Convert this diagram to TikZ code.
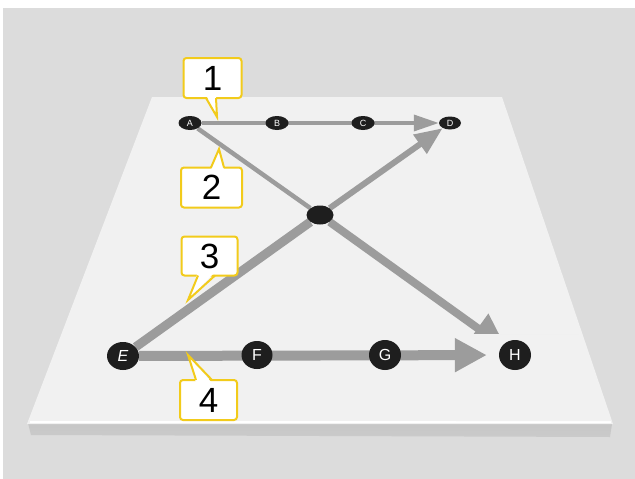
\documentclass[tikz,border=0pt]{standalone}
\usepackage{fontspec}
\setmainfont{Liberation Sans}
\usetikzlibrary{arrows.meta,shapes.geometric,calc}
\pgfdeclarelayer{bglayer}
\pgfdeclarelayer{linelayer}
\pgfsetlayers{bglayer,linelayer,main}
\definecolor{bggray}{HTML}{DCDCDC}
\definecolor{platecol}{HTML}{F1F1F1}
\definecolor{bandcol}{HTML}{C6C6C6}
\definecolor{lngray}{HTML}{9C9C9C}
\definecolor{dotblack}{HTML}{1E1E1E}
\definecolor{calloutyellow}{HTML}{F2CB1B}
\begin{document}
\begin{tikzpicture}[x=1pt,y=-1pt,
  dotsm/.style={ellipse,fill=dotblack,inner sep=0pt,minimum width=23pt,minimum height=14pt,text=white,font=\fontsize{9}{9}\selectfont},
  dotlg/.style={ellipse,fill=dotblack,inner sep=0pt,minimum width=31pt,minimum height=28pt,text=white,font=\fontsize{16}{16}\selectfont},
  dotmid/.style={ellipse,fill=dotblack,inner sep=0pt,minimum width=27pt,minimum height=19pt},
  conn/.style={draw=lngray,line cap=butt},
  callbox/.style={rectangle,rounded corners=3pt,draw=calloutyellow,line width=2pt,fill=white,minimum width=58pt,minimum height=40pt,inner sep=0pt,font=\fontsize{35}{35}\selectfont},
  tailline/.style={draw=calloutyellow,line width=2pt,line join=miter}]
\useasboundingbox (0,0) rectangle (635,479);
\begin{pgfonlayer}{bglayer}
  \fill[white] (0,0) rectangle (635,479);
  \fill[bggray] (3,8) rectangle (635,479);
  % plate thickness
  \shade[top color=bandcol,bottom color=bggray!92!black] (28,423) -- (612,424) -- (610,437) -- (31,435) -- cycle;
  % plate face
  \fill[platecol] (152,97) -- (502,97) -- (613,424) -- (27,424) -- cycle;
  \draw[white,line width=1.2pt] (30,422) -- (611,422);
\end{pgfonlayer}

% nodes
\node[dotsm] (A) at (190,123) {A};
\node[dotsm] (B) at (277,123) {B};
\node[dotsm] (C) at (363,123) {C};
\node[dotsm,minimum width=22pt,minimum height=13pt] (D) at (450,123) {D};
\node[dotmid] (X) at (320,215) {};
\node[dotlg,minimum width=32pt] (E) at (123,356) {\itshape E};
\node[dotlg] (F) at (257,355) {F};
\node[dotlg,minimum width=32pt,minimum height=30pt] (G) at (385,355) {G};
\node[dotlg,minimum width=32pt,minimum height=30pt] (H) at (515,355) {H};

\begin{pgfonlayer}{linelayer}
  % A -> D
  \draw[conn,line width=3.5pt,-{Triangle[length=25pt,width=16pt]}] (A) -- (D);
  % A -> H through the crossing
  \draw[conn,line width=4.5pt] (A) -- (X);
  \draw[conn,line width=8pt,-{Triangle[length=36pt,width=34pt]},shorten >=-6pt] (X) -- (H);
  % face strip cutting the tip of A -> H
  \fill[platecol] (456,334) -- (580,334) -- (611,421) -- (456,421) -- cycle;
  \draw[black!6,line width=0.8pt] (500,334) -- (579,334);
  % E -> D through the crossing
  \draw[conn,line width=9pt] (E) -- (X);
  \draw[conn,line width=6pt,-{Triangle[length=28pt,width=22pt]}] (X) -- (D);
  % E -> H
  \draw[conn,line width=10pt,-{Triangle[length=32pt,width=32pt]},shorten >=12pt] (E) -- (H);
\end{pgfonlayer}

% callouts
\node[callbox] (c1) at (212.5,78) {1};
\coordinate (t1) at (217,117);
\fill[white] (206,95) -- (t1) -- (216,95) -- cycle;
\draw[tailline] (206,98) -- (t1) -- (216,98);

\node[callbox,minimum width=61pt] (c2) at (211.5,187.5) {2};
\coordinate (t2) at (219,149);
\fill[white] (211,170) -- (t2) -- (224,170) -- cycle;
\draw[tailline] (211,167.5) -- (t2) -- (224,167.5);

\node[callbox,minimum width=56pt,minimum height=39pt] (c3) at (209.5,256) {3};
\coordinate (t3) at (188,300);
\fill[white] (198,272) -- (t3) -- (215,272) -- cycle;
\draw[tailline] (198,275.5) -- (t3) -- (215,275.5);

\node[callbox,minimum width=57pt] (c4) at (208.5,400) {4};
\coordinate (t4) at (188,355);
\fill[white] (196,383) -- (t4) -- (212,383) -- cycle;
\draw[tailline] (196,380) -- (t4) -- (212,380);
\end{tikzpicture}
\end{document}
